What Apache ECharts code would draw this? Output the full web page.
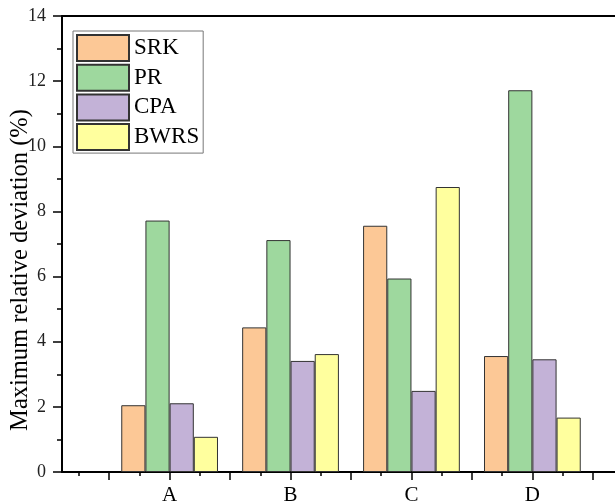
<!DOCTYPE html>
<html>
<head>
<meta charset="utf-8">
<script src="https://cdn.jsdelivr.net/npm/echarts@6/dist/echarts.min.js"></script>
<style>
html, body { margin: 0; padding: 0; background: #fff; }
#chart { width: 615px; height: 504px; }
</style>
</head>
<body>
<div id="chart"></div>
<script>
// categories on the x axis
var categories = ['A', 'B', 'C', 'D'];
var seriesNames = ['SRK', 'PR', 'CPA', 'BWRS'];
// maximum relative deviation (%)
var srk = [2.05, 4.44, 7.56, 3.56];
var pr = [7.72, 7.12, 5.94, 11.72];
var cpa = [2.11, 3.41, 2.49, 3.46];
var bwrs = [1.08, 3.62, 8.75, 1.67];
var yTicks = [0, 2, 4, 6, 8, 10, 12, 14];

var colors = ['#fcc896', '#9ed89e', '#c3b2d7', '#ffff9e'];
var font = "'Liberation Serif', 'Times New Roman', serif";

//category i sits at x = i + 1
var centers = [], majorTicks = [], minorTicks = [];
for(var i = 0; i <= categories.length; i++) {
	if(i < categories.length) centers.push(i + 1);
	majorTicks.push(i + 0.5);
	if(i < categories.length) majorTicks.push(i + 1);
	minorTicks.push(i + 0.25, i + 0.75);
}

function pairs(values) {
	var out = [];
	for(var i = 0; i < values.length; i++) {
		out.push([centers[i], values[i]]);
	}
	return out;
}

var xMin = 0.11, xMax = 4.89;

var myChart = echarts.init(document.getElementById('chart'));
var allValues = [srk, pr, cpa, bwrs];
var series = [];
for(var s = 0; s < seriesNames.length; s++) {
	series.push({
		name: seriesNames[s],
		type: 'bar',
		xAxisIndex: 0,
		data: pairs(allValues[s]),
		barGap: '0%',
		barCategoryGap: '20%',
		itemStyle: {
			color: colors[s],
			borderColor: '#333',
			borderWidth: 1
		},
		emphasis: { disabled: true }
	});
}

var option = {
	animation: false,
	backgroundColor: '#fff',
	grid: { left: 62, top: 16, bottom: 32, right: -25, containLabel: false, outerBoundsMode: 'none' },
	legend: {
		orient: 'vertical',
		left: 73,
		top: 31,
		itemWidth: 52,
		itemHeight: 26,
		itemGap: 1.7,
		padding: [3, 4, 2, 3],
		borderColor: '#777',
		borderWidth: 1,
		icon: 'rect',
		textStyle: { fontFamily: font, fontSize: 23, color: '#000' },
		data: seriesNames
	},
	xAxis: [{
		type: 'value',
		min: xMin,
		max: xMax,
		position: 'bottom',
		splitLine: { show: false },
		axisLine: { onZero: false, lineStyle: { color: '#000', width: 2 } },
		axisTick: { show: true, length: 8, customValues: majorTicks, lineStyle: { color: '#000', width: 1.5 } },
		axisLabel: {
			customValues: centers,
			margin: 13,
			fontFamily: font,
			fontSize: 21,
			color: '#000',
			formatter: function(v) {
				return categories[Math.round(v) - 1] || '';
			}
		}
	}, {
		type: 'value',
		min: xMin,
		max: xMax,
		position: 'bottom',
		splitLine: { show: false },
		axisLine: { show: false, onZero: false },
		axisTick: { show: true, length: 4, customValues: minorTicks, lineStyle: { color: '#000', width: 1.5 } },
		axisLabel: { show: false }
	}, {
		type: 'value',
		min: xMin,
		max: xMax,
		position: 'top',
		splitLine: { show: false },
		axisLine: { onZero: false, lineStyle: { color: '#000', width: 2 } },
		axisTick: { show: false },
		axisLabel: { show: false }
	}],
	yAxis: {
		type: 'value',
		min: yTicks[0],
		max: yTicks[yTicks.length - 1],
		interval: 2,
		name: 'Maximum relative deviation (%)',
		nameLocation: 'middle',
		nameRotate: 90,
		nameGap: 29,
		nameMoveOverlap: false,
		nameTextStyle: { fontFamily: font, fontSize: 24.5, color: '#000', padding: [0, 52, 0, 0] },
		splitLine: { show: false },
		axisLine: { show: true, onZero: false, lineStyle: { color: '#000', width: 2 } },
		axisTick: { show: true, length: 9, lineStyle: { color: '#000', width: 1.5 } },
		minorTick: { show: true, splitNumber: 2, length: 5, lineStyle: { color: '#000', width: 1.5 } },
		axisLabel: { margin: 16, fontFamily: font, fontSize: 18, color: '#222' }
	},
	series: series
};

myChart.setOption(option);
</script>
</body>
</html>
